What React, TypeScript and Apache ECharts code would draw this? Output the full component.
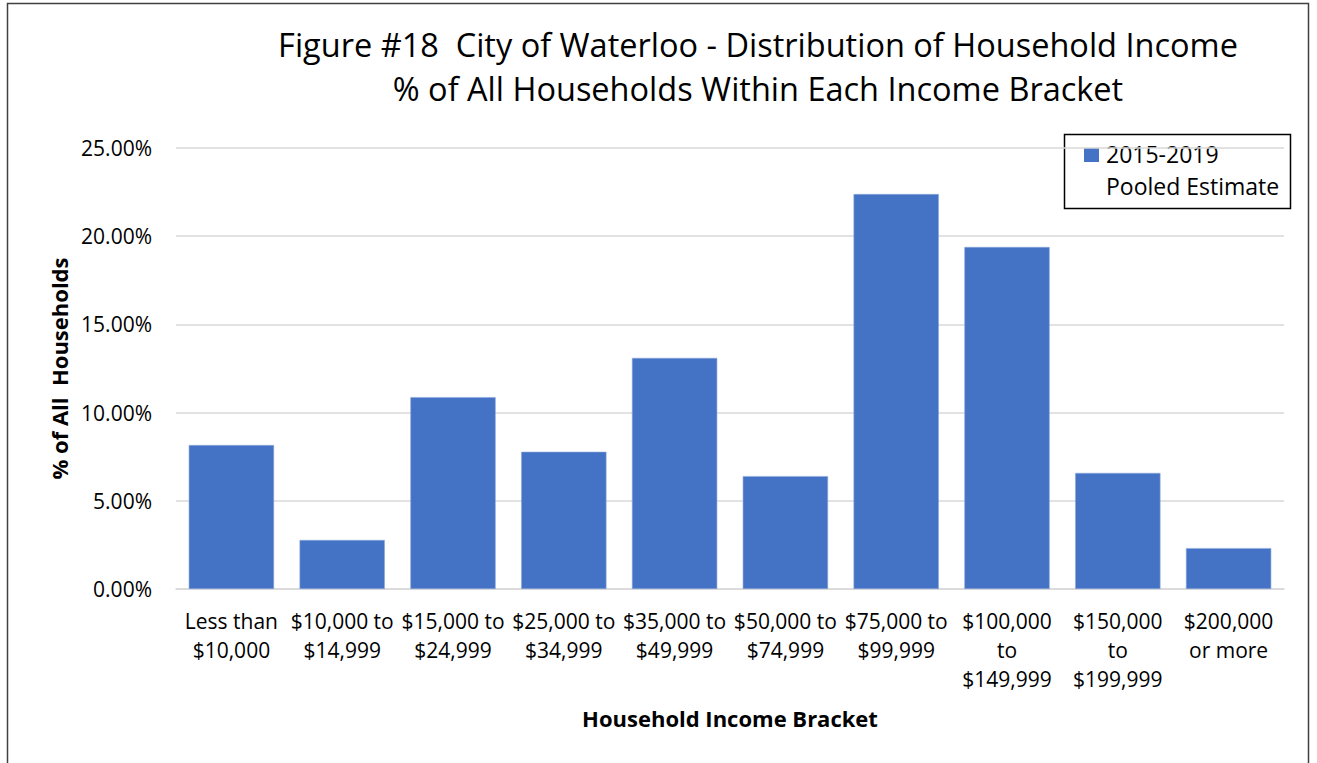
import React, { useEffect, useRef } from "react";
import * as echarts from "echarts";

const titleLines = [
  "Figure #18  City of Waterloo - Distribution of Household Income",
  "% of All Households Within Each Income Bracket",
];
const categories = [
  "Less than\n$10,000",
  "$10,000 to\n$14,999",
  "$15,000 to\n$24,999",
  "$25,000 to\n$34,999",
  "$35,000 to\n$49,999",
  "$50,000 to\n$74,999",
  "$75,000 to\n$99,999",
  "$100,000\nto\n$149,999",
  "$150,000\nto\n$199,999",
  "$200,000\nor more",
];
const seriesName = "2015-2019\nPooled Estimate";
const values = [8.16, 2.78, 10.88, 7.78, 13.1, 6.4, 22.39, 19.39, 6.58, 2.32];
const yAxisName = "% of All  Households";
const xAxisName = "Household Income Bracket";

const FONT = "'Open Sans', 'Noto Sans', sans-serif";

export default function App() {
  const ref = useRef<HTMLDivElement>(null);
  useEffect(() => {
    document.body.style.margin = "0";
    const chart = echarts.init(ref.current!, undefined, { renderer: "svg" });
    const legendLines = seriesName.split("\n");
    chart.setOption({
      animation: false,
      backgroundColor: "#fff",
      textStyle: { fontFamily: FONT },
      grid: { left: 176, right: 33, top: 148, bottom: 174 },
      xAxis: {
        type: "category",
        data: categories,
        name: xAxisName,
        nameLocation: "middle",
        nameGap: 118,
        nameTextStyle: { fontFamily: FONT, fontSize: 22, fontWeight: "bold", color: "#000" },
        axisLine: { show: true, lineStyle: { color: "#d9d9d9", width: 1.5 } },
        axisTick: { show: false },
        axisLabel: {
          interval: 0,
          margin: 17,
          fontFamily: FONT,
          fontSize: 21,
          lineHeight: 29,
          color: "#000",
        },
      },
      yAxis: {
        type: "value",
        min: 0,
        max: 25,
        interval: 5,
        name: yAxisName,
        nameLocation: "middle",
        nameRotate: 90,
        nameGap: 105,
        nameTextStyle: { fontFamily: FONT, fontSize: 22, fontWeight: "bold", color: "#000" },
        axisLine: { show: false },
        axisTick: { show: false },
        axisLabel: {
          margin: 24,
          fontFamily: FONT,
          fontSize: 21,
          color: "#000",
          formatter: (v: number) => v.toFixed(2) + "%",
        },
        splitLine: { lineStyle: { color: "#d9d9d9", width: 1.5 } },
      },
      series: [
        {
          name: seriesName,
          type: "bar",
          data: values,
          barCategoryGap: "23%",
          itemStyle: { color: "#4472C4", borderColor: "#8faadc", borderWidth: 0.6 },
        },
      ],
      graphic: [
        {
          type: "rect",
          shape: { x: 7.5, y: 3.5, width: 1301, height: 800 },
          style: { fill: "none", stroke: "#404040", lineWidth: 1.5 },
          silent: true,
        },
        {
          type: "text",
          x: 758,
          y: 44,
          style: {
            text: titleLines[0],
            fontFamily: FONT,
            fontSize: 32.5,
            fill: "#000",
            align: "center",
            verticalAlign: "middle",
          },
        },
        {
          type: "text",
          x: 758,
          y: 88,
          style: {
            text: titleLines[1],
            fontFamily: FONT,
            fontSize: 32.5,
            fill: "#000",
            align: "center",
            verticalAlign: "middle",
          },
        },
        {
          type: "rect",
          shape: { x: 1064.5, y: 134.5, width: 226, height: 74 },
          style: { fill: "#fff", stroke: "#000", lineWidth: 1.5 },
        },
        {
          type: "rect",
          shape: { x: 1084, y: 148, width: 15, height: 14 },
          style: { fill: "#4472C4" },
        },
        {
          type: "text",
          x: 1106,
          y: 154,
          style: {
            text: legendLines[0],
            fontFamily: FONT,
            fontSize: 23,
            fill: "#000",
            align: "left",
            verticalAlign: "middle",
          },
        },
        {
          type: "text",
          x: 1106,
          y: 186,
          style: {
            text: legendLines[1],
            fontFamily: FONT,
            fontSize: 23,
            fill: "#000",
            align: "left",
            verticalAlign: "middle",
          },
        },
      ],
    });
    return () => chart.dispose();
  }, []);
  return <div ref={ref} style={{ width: 1317, height: 763 }} />;
}
